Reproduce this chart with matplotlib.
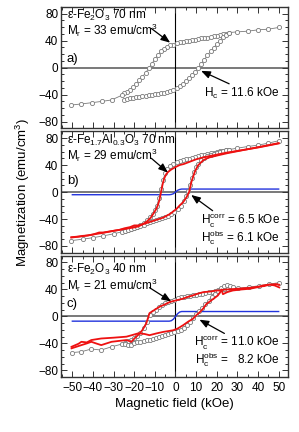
import matplotlib

matplotlib.use("Agg")
import matplotlib.pyplot as plt  # noqa: E402
from matplotlib.ticker import MultipleLocator  # noqa: E402

plt.rcParams["font.family"] = ["Liberation Sans", "DejaVu Sans"]
plt.rcParams["mathtext.fontset"] = "custom"
plt.rcParams["mathtext.rm"] = "Liberation Sans"
plt.rcParams["mathtext.it"] = "Liberation Sans:italic"

# ---- panel a: e-Fe2O3 70 nm (measured loop, open circles)
A_UP_H = [50, 45, 40, 35, 30, 26, 24.5, 23, 21.5, 20, 18.5, 17, 15.5, 14, 12.5, 11, 9.5, 8, 6.5, 5,
          3.5, 2, 0.5, -1, -2.5, -4, -5.5, -7, -8.5, -10, -11.5, -13, -14.5, -16, -17.5, -19, -20.5,
          -22, -23.5, -25, -26, -31, -35.5, -40.5, -46, -50.5]
A_UP_M = [59.5, 57, 56, 54, 53, 52, 50.5, 49.4, 48.3, 47.2, 46.2, 45.3, 44.5, 43.9, 43.2, 42.4, 41.6,
          40.8, 40, 39.4, 38.5, 37.5, 35.8, 34.2, 32.8, 30.8, 27.8, 24, 19, 12.5, 5.5, -1, -8, -13.5,
          -19, -25, -29, -33, -35.5, -38, -41, -48, -50, -52, -54, -55.5]
A_DN_H = [-25, -23.5, -22, -20.5, -19, -17.5, -16, -14.5, -13, -11.5, -10, -8.5, -7, -5.5, -4, -2.5,
          -1, 0.5, 2, 3.5, 5, 6.5, 8, 9.5, 11, 12.5, 14, 15.5, 17, 18.5, 20, 21.5, 23, 24.5, 26]
A_DN_M = [-47.5, -46.5, -45.5, -44.8, -44, -43.4, -42.8, -42, -41, -40.3, -39.5, -38.8, -38, -37,
          -36, -34.5, -32.8, -30.5, -27.5, -24, -20, -15.5, -10.5, -6, -1, 5, 12, 18, 24, 29, 35,
          40, 45, 49, 52]

# ---- panel b: e-Fe1.7Al0.3O3 70 nm (measured, corrected, paramagnetic part)
B_UP_H = [50, 45, 40, 35, 30, 26, 24.5, 23, 21.5, 20, 18.5, 17, 15.5, 14, 12.5, 11, 9.5, 8, 6.5, 5,
          3.5, 2, 0.5, -1, -2.5, -4, -5, -6, -7, -8, -9, -10, -11, -12.5, -14, -15.5, -17, -18.5,
          -20, -21.5, -23, -24.5, -26, -30, -35, -40, -45, -50.5]
B_UP_M = [76, 72.5, 69.5, 67.5, 65, 63, 62, 61, 60.3, 59.5, 58.5, 57.6, 56.5, 55.5, 54.5, 53.3, 52,
          50.8, 49.5, 48.3, 47, 45.8, 44, 42, 39, 34, 28, 18, 4, -9, -20, -27, -32, -37, -42, -46,
          -49, -51.5, -53, -54.5, -56, -57.5, -59, -62, -65, -67.7, -70, -72]
B_DN_H = [-24.5, -23, -21.5, -20, -18.5, -17, -15.5, -14, -12.5, -11, -9.5, -8, -6.5, -5, -3.5, -2,
          -0.5, 1, 2.5, 4, 5, 6, 7, 8, 9, 10, 11, 12.5, 14, 15.5, 17, 18.5, 20, 21.5, 23, 24.5, 26]
B_DN_M = [-57.3, -56, -54.7, -53, -51.5, -50, -48.5, -46.5, -45, -43.5, -42, -40.5, -39, -37, -35,
          -32.5, -29.5, -25.5, -20, -13, -6, 2, 11, 21, 30, 37, 42, 47, 51, 53.5, 55.5, 57, 58.5,
          60, 61, 62, 63]
B_RED_UP_H = [50, 45, 40, 35, 30, 25, 20, 16, 13, 10, 7, 4, 2, 0, -2, -3.5, -4.5, -5.5, -6.2, -7,
              -7.8, -8.6, -9.5, -10.5, -12, -14, -16, -18, -20, -22, -24, -26, -30, -35, -40, -45,
              -50.5]
B_RED_UP_M = [72.5, 69.5, 66.5, 63.5, 61, 58.5, 55.5, 53, 51, 48.5, 45, 41.5, 40, 37, 33.5, 30,
              26.5, 20, 12, 0, -12, -20, -26, -31, -38, -44, -48, -51, -52.5, -53.5, -54.5, -55.5,
              -57.5, -60.5, -63, -65.5, -67.5]
B_RED_DN_H = [-50.5, -47, -45, -42.5, -40, -37, -35, -32, -29.5, -27, -24.8, -22, -20, -18, -15,
              -12, -9, -6, -2.7, 0.5, 2, 3.7, 5.3, 6.6, 7.7, 9.3, 10.9, 13.4, 16, 20, 25, 30, 35,
              40, 45, 50]
B_RED_DN_M = [-67, -66, -65, -64.5, -63, -60, -60, -58.5, -57.3, -56, -53.8, -52, -49.5, -49.5, -47,
              -44, -41, -38, -32.6, -25, -20, -15, -8, 0, 14.8, 29.6, 39.5, 47, 51, 54, 57.5, 60.5,
              63.5, 66, 69, 72]
B_BLUE_H = [-50, -3, -2, -1, 0, 1, 2, 3, 50]
B_BLUE_M = [-4, -4, -3.6, -2.5, 0, 2.5, 3.8, 4.4, 4.4]

# ---- panel c: e-Fe2O3 40 nm
C_UP_H = [50, 45.5, 40.5, 35.5, 30.5, 28, 26.5, 25, 23.5, 22, 20.5, 19, 17.5, 16, 14.5, 13, 11.5, 10,
          8.5, 7, 5.5, 4, 2.5, 1, -0.5, -2, -3.5, -5, -6.5, -8, -9.5, -11, -12.5, -14, -15.5, -17,
          -18.5, -20, -21.5, -23, -24.5, -26, -31, -36, -40.8, -45.6, -50.4]
C_UP_M = [50, 48, 45.5, 43.5, 42, 41.5, 41.5, 41, 40.5, 40, 39, 38, 36.5, 35.5, 34.5, 33.5, 33, 32,
          31.5, 30.8, 30, 29.3, 28.5, 27, 25, 23.5, 21.5, 19.5, 17, 14, 10, 6, 1.5, -8, -17, -25,
          -29, -32.5, -35, -37, -39, -41, -45, -49.8, -48.3, -52.3, -53.7]
C_DN_H = [-24.5, -23, -21.5, -20, -18.5, -17, -15.5, -14, -12.5, -11, -9.5, -8, -6.5, -5, -3.5, -2,
          -0.5, 1, 2.5, 4, 5.5, 7, 8.5, 10, 11.5, 13, 14.5, 16, 17.5, 19, 20.5, 22, 23.5, 25, 26.5,
          28]
C_DN_M = [-41.5, -43, -42, -40, -38.5, -37.5, -36.5, -35.5, -35, -33.5, -32, -30.5, -29, -28, -26.5,
          -25, -23.5, -22, -20, -16.5, -12.5, -8, -3, 3, 8.5, 13, 18, 23.5, 29, 34, 38, 42, 45, 46,
          45, 44]
C_RED_UP_H = [50.3, 48, 45.6, 43, 40, 36, 30, 25, 23, 21.5, 20, 17, 13.4, 10, 8.5, 6, 3.7, 0.5, -2.7,
              -5, -7.6, -10, -12.6, -14.2, -16, -17.4, -20, -21.4, -23.8, -28, -31, -36, -38.5,
              -40.8, -43, -45.6, -50.4]
C_RED_UP_M = [43, 46, 47.3, 45, 44, 42.5, 41, 40, 39.5, 38.5, 38.5, 37, 36, 33, 31.2, 29, 26.4, 24,
              21.5, 18, 14.6, 10, 4.9, -10.7, -20, -25.4, -33, -37.6, -35, -36.5, -37.6, -42.5, -40,
              -37.6, -40, -42.5, -47.3]
C_RED_DN_H = [-50.4, -47, -45.6, -43, -40.8, -36, -30, -23.8, -21.4, -18, -15, -12.6, -9, -5.9,
              -1.1, 1, 3.7, 6, 8.5, 10, 11.8, 13.5, 15, 17, 19.2, 20.5, 21.6, 22.2, 23, 25, 27.8, 32,
              35.9, 40, 42.3, 45, 48.7, 50.3]
C_RED_DN_M = [-45, -40.5, -37.6, -38.5, -35, -32.7, -31.5, -30, -28, -25, -26, -27.8, -25, -22.9,
              -20.5, -18, -13, -8, -3.4, 1.5, 6.3, 12, 18.5, 23, 28, 31, 35.6, 40, 33, 36, 38.5, 40,
              41, 43.5, 45.9, 47, 48, 47]
C_BLUE_H = [-50, -3, -2, -1, 0, 1, 2, 3, 50]
C_BLUE_M = [-7, -7, -6.3, -4, 0, 4, 6.5, 7.3, 7.3]

GRAY = "#7a7a7a"
RED = "#ee1111"
BLUE = "#2233dd"


def style(ax, last):
    ax.set_xlim(-55.5, 54.5)
    ax.set_ylim(-90, 90)
    ax.axhline(0, color="#555555", lw=1.1, zorder=1)
    ax.axvline(0, color="black", lw=0.8, zorder=1)
    ax.xaxis.set_major_locator(MultipleLocator(10))
    ax.xaxis.set_minor_locator(MultipleLocator(5))
    ax.yaxis.set_major_locator(MultipleLocator(40))
    ax.yaxis.set_minor_locator(MultipleLocator(10))
    ax.tick_params(which="both", direction="in", top=True, right=True, labelsize=8.5,
                   color="#333333", width=0.7)
    ax.tick_params(which="major", length=4)
    ax.tick_params(which="minor", length=2)
    ax.tick_params(axis="y", pad=2)
    for s in ax.spines.values():
        s.set_color("#333333")
        s.set_linewidth(1.0)
    if not last:
        ax.tick_params(labelbottom=False)


def loop(ax, h, m):
    ax.plot(h, m, color=GRAY, lw=0.6, marker="o", ms=3, mfc="white", mec=GRAY, mew=0.6, zorder=3)


def arrow(ax, tail, tip):
    ax.annotate("", xy=tip, xytext=tail,
                arrowprops=dict(arrowstyle="-|>,head_length=0.55,head_width=0.22",
                                color="black", lw=0.9, shrinkA=0, shrinkB=0), zorder=6)


fig = plt.figure(figsize=(2.99, 4.32), dpi=100)
left, width, height = 0.204, 0.759, 0.281
ax_a = fig.add_axes([left, 0.703, width, height])
ax_b = fig.add_axes([left, 0.415, width, height])
ax_c = fig.add_axes([left, 0.127, width, height])

fs = 8.5
# panel a
style(ax_a, False)
loop(ax_a, A_UP_H, A_UP_M)
loop(ax_a, A_DN_H, A_DN_M)
ax_a.text(-52.7, 77, "ε-Fe$_2$O$_3$ 70 nm", fontsize=fs, va="center")
ax_a.text(-52.7, 55, "M$_\\mathrm{r}$ = 33 emu/cm$^3$", fontsize=fs, va="center")
ax_a.text(-52.7, 13, "a)", fontsize=9.5, va="center")
arrow(ax_a, (-11.7, 58), (-2.6, 37))
ax_a.text(50.5, -39, "H$_\\mathrm{c}$ = 11.6 kOe", fontsize=fs, ha="right", va="center")
arrow(ax_a, (26, -24), (12.4, -4.8))

# panel b
style(ax_b, False)
ax_b.plot(B_BLUE_H, B_BLUE_M, color=BLUE, lw=1.0, zorder=2)
loop(ax_b, B_UP_H, B_UP_M)
loop(ax_b, B_DN_H, B_DN_M)
ax_b.plot(B_RED_UP_H, B_RED_UP_M, color=RED, lw=1.3, zorder=4)
ax_b.plot(B_RED_DN_H, B_RED_DN_M, color=RED, lw=1.3, zorder=4)
ax_b.text(-52.7, 77, "ε-Fe$_{1.7}$Al$_{0.3}$O$_3$ 70 nm", fontsize=fs, va="center")
ax_b.text(-52.7, 54, "M$_\\mathrm{r}$ = 29 emu/cm$^3$", fontsize=fs, va="center")
ax_b.text(-52.7, 16, "b)", fontsize=9.5, va="center")
arrow(ax_b, (-11.7, 50), (-3.7, 29))
ax_b.text(50.5, -42, "H$_\\mathrm{c}^\\mathrm{corr}$ = 6.5 kOe", fontsize=fs, ha="right",
          va="center")
ax_b.text(50.5, -67, "H$_\\mathrm{c}^\\mathrm{obs}$ = 6.1 kOe", fontsize=fs, ha="right",
          va="center")
arrow(ax_b, (18, -27.7), (7.6, -4.4))

# panel c
style(ax_c, True)
ax_c.plot(C_BLUE_H, C_BLUE_M, color=BLUE, lw=1.0, zorder=2)
loop(ax_c, C_UP_H, C_UP_M)
loop(ax_c, C_DN_H, C_DN_M)
ax_c.plot(C_RED_UP_H, C_RED_UP_M, color=RED, lw=1.3, zorder=4)
ax_c.plot(C_RED_DN_H, C_RED_DN_M, color=RED, lw=1.3, zorder=4)
ax_c.text(-52.7, 70, "ε-Fe$_2$O$_3$ 40 nm", fontsize=fs, va="center")
ax_c.text(-52.7, 46, "M$_\\mathrm{r}$ = 21 emu/cm$^3$", fontsize=fs, va="center")
ax_c.text(-52.7, 18, "c)", fontsize=9.5, va="center")
arrow(ax_c, (-12.6, 42.7), (-2.1, 22.3))
ax_c.text(50.5, -37.5, "H$_\\mathrm{c}^\\mathrm{corr}$ = 11.0 kOe", fontsize=fs, ha="right",
          va="center")
ax_c.text(50.5, -64, "H$_\\mathrm{c}^\\mathrm{obs}$ =   8.2 kOe", fontsize=fs, ha="right",
          va="center")
arrow(ax_c, (23.7, -25.2), (11.6, -4.8))
ax_c.set_xlabel("Magnetic field (kOe)", fontsize=9.5, labelpad=3)

fig.text(0.075, 0.555, "Magnetization (emu/cm$^3$)", rotation=90, fontsize=9.5,
         ha="center", va="center")

fig.savefig("out.png", dpi=100)
